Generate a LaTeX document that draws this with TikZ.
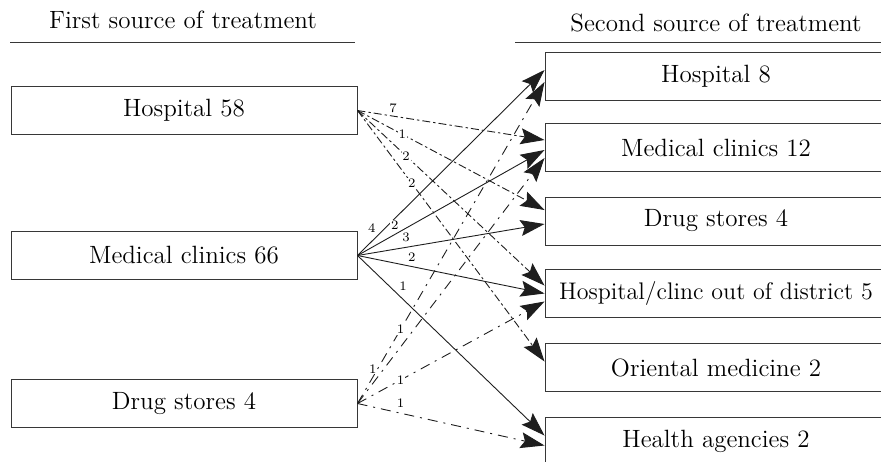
\documentclass[tikz,border=0pt]{standalone}
\usepackage{xcolor}
\usepackage{tikz}
\usetikzlibrary{arrows.meta, positioning, calc}
\definecolor{framecolor}{RGB}{55,55,55}
\definecolor{tipcolor}{RGB}{30,30,30}

\begin{document}
\begin{tikzpicture}[
    x=0.5pt, y=-0.5pt,
    srcbox/.style={draw=framecolor, line width=0.5pt, minimum width=173pt, minimum height=24pt, inner sep=0pt, font=\fontsize{12.5}{15}\selectfont},
    dstbox/.style={srcbox, minimum width=171pt},
    flow/.style={-{Stealth[length=12pt, width=8pt, inset=2pt]}, line width=0.45pt, draw=tipcolor},
    hospflow/.style={flow, dash pattern=on 4pt off 1.5pt on 1.2pt off 1.5pt},
    clinflow/.style={flow},
    drugflow/.style={flow, dash pattern=on 5pt off 3pt on 1pt off 3pt},
    num/.style={font=\fontsize{6.5}{7}\selectfont, inner sep=0.4pt, fill=white},
    head/.style={font=\fontsize{12.5}{15}\selectfont}
]
    \useasboundingbox (0,0) rectangle (881,461);

    % Headings
    \node[head, anchor=base] (firsthead) at (183,28) {First source of treatment};
    \draw[framecolor, line width=0.5pt] (10,42) -- (355,42);
    \node[head, anchor=base] (secondhead) at (716,31) {Second source of treatment};
    \draw[framecolor, line width=0.5pt] (515,42) -- (890,42);

    % First source
    \node[srcbox] (hosp58) at (184,110.5) {Hospital 58};
    \node[srcbox] (clin66) at (184,255.5) {Medical clinics 66};
    \node[srcbox] (drug4a) at (184,403.5) {Drug stores 4};

    % Second source
    \node[dstbox] (hosp8) at (716,76) {Hospital 8};
    \node[dstbox] (clin12) at (716,147.5) {Medical clinics 12};
    \node[dstbox] (drug4b) at (716,221) {Drug stores 4};
    \node[dstbox, font=\fontsize{12}{14}\selectfont] (outdist) at (716,293.5) {Hospital/clinc out of district 5};
    \node[dstbox] (orient) at (716,367.5) {Oriental medicine 2};
    \node[dstbox] (agency) at (716,441.5) {Health agencies 2};

    % From hospital
    \draw[hospflow] (hosp58.east) -- node[num, pos=0.19, above=1pt] {7} ([yshift=3.75pt]clin12.west);
    \draw[hospflow] (hosp58.east) -- node[num, pos=0.24] {1} ([yshift=5.5pt]drug4b.west);
    \draw[hospflow] (hosp58.east) -- node[num, pos=0.26] {2} ([yshift=4pt]outdist.west);
    \draw[hospflow] (hosp58.east) -- node[num, pos=0.29] {2} ([yshift=3pt]orient.west);

    % From medical clinics
    \draw[clinflow] (clin66.east) -- node[num, pos=0.11, above left=1pt] {4} ([yshift=3pt]hosp8.west);
    \draw[clinflow] (clin66.east) -- node[num, pos=0.2, above=2pt] {2} ([yshift=-1.25pt]clin12.west);
    \draw[clinflow] (clin66.east) -- node[num, pos=0.26, above=2pt] {3} ([yshift=-1.5pt]drug4b.west);
    \draw[clinflow] (clin66.east) -- node[num, pos=0.29, above=2pt] {2} ([yshift=0pt]outdist.west);
    \draw[clinflow] (clin66.east) -- node[num, pos=0.21, above right=1pt] {1} ([yshift=3pt]agency.west);

    % From drug stores
    \draw[drugflow] (drug4a.east) -- node[num, pos=0.23] {1} ([yshift=-3pt]hosp8.west);
    \draw[drugflow] (drug4a.east) -- node[num, pos=0.14, left=3pt] {1} ([yshift=-5.25pt]clin12.west);
    \draw[drugflow] (drug4a.east) -- node[num, pos=0.23] {1} ([yshift=-4pt]outdist.west);
    \draw[drugflow] (drug4a.east) -- node[num, pos=0.23, above=2pt] {1} ([yshift=-2pt]agency.west);
\end{tikzpicture}
\end{document}
